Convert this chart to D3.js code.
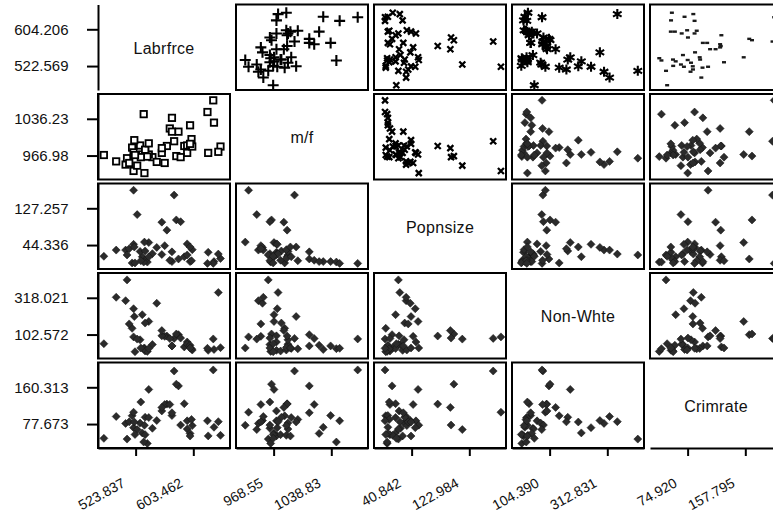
<!DOCTYPE html>
<html>
<head>
<meta charset="utf-8">
<script src="https://cdn.jsdelivr.net/npm/d3@7"></script>
<style>
  html, body { margin: 0; padding: 0; background: #fff; }
  svg { display: block; font-family: "Liberation Sans", Arial, sans-serif; }
</style>
</head>
<body>
<div id="viz"></div>
<script>
// Five crime variables for 47 states, drawn as a scatterplot matrix.
const VARS = ["Labrfrce", "m/f", "Popnsize", "Non-Whte", "Crimrate"];

const labrfrce = [510, 583, 533, 577, 591, 547, 519, 542, 553, 632, 580, 595, 624, 595, 530, 497,
  537, 537, 536, 567, 602, 512, 564, 574, 641, 631, 540, 571, 521, 521, 535, 586, 560, 542, 526,
  531, 638, 599, 515, 560, 601, 523, 522, 574, 480, 599, 623];
const mf = [950, 1012, 969, 994, 985, 964, 982, 969, 955, 1029, 966, 972, 972, 986, 986, 956, 977,
  978, 934, 985, 984, 962, 953, 1038, 984, 1071, 965, 1018, 938, 973, 1045, 964, 972, 990, 948,
  964, 974, 1024, 953, 981, 998, 968, 996, 1012, 968, 989, 1049];
const popnsize = [33, 13, 18, 157, 18, 25, 4, 50, 39, 7, 101, 47, 28, 22, 30, 33, 10, 31, 51, 78,
  34, 22, 43, 7, 14, 3, 6, 10, 168, 46, 6, 97, 23, 18, 113, 9, 24, 7, 36, 96, 9, 4, 40, 29, 19, 40, 3];
const nonWhite = [301, 102, 219, 80, 30, 44, 139, 179, 286, 15, 106, 59, 10, 46, 72, 321, 6, 170,
  24, 94, 12, 423, 92, 36, 26, 77, 4, 79, 89, 254, 20, 82, 95, 21, 76, 24, 349, 40, 165, 126, 19,
  2, 208, 36, 49, 24, 22];
const crimrate = [79.1, 163.5, 57.8, 196.9, 123.4, 68.2, 96.3, 155.5, 85.6, 70.5, 167.4, 84.9,
  51.1, 66.4, 79.8, 94.6, 53.9, 92.9, 75.0, 122.5, 74.2, 43.9, 121.6, 96.8, 52.3, 199.3, 34.2,
  121.6, 104.3, 69.6, 37.3, 75.4, 107.2, 92.3, 65.3, 127.2, 83.1, 56.6, 82.6, 115.1, 88.0, 54.2,
  82.3, 103.0, 45.5, 50.8, 84.9];

const SERIES = [labrfrce, mf, popnsize, nonWhite, crimrate];

// tick labels as printed (low, high)
const xTickLabels = [
  ["523.837", "603.462"], ["968.55", "1038.83"], ["40.842", "122.984"],
  ["104.390", "312.831"], ["74.920", "157.795"]
];
const yTickLabels = [
  ["522.569", "604.206"], ["966.98", "1036.23"], ["44.336", "127.257"],
  ["102.572", "318.021"], ["77.673", "160.313"]
];

const W = 773, H = 515;
const left0 = 98, top0 = 4.5;
const cellW = 132, cellH = 85.5, pitchX = 138, pitchY = 89.5;
// where the two ticks sit inside a panel, as a share of its width / height
const xFrac = [0.285, 0.722];
const yFrac = [0.28, 0.71];

function domainFromTicks(t, f) {
  const k = (t[1] - t[0]) / (f[1] - f[0]);
  const lo = t[0] - f[0] * k;
  return [lo, lo + k];
}

const n = VARS.length;
const xScales = VARS.map((v, j) => {
  const l = left0 + j * pitchX;
  return d3.scaleLinear()
    .domain(domainFromTicks(xTickLabels[j].map(Number), xFrac))
    .range([l, l + cellW]);
});
const yScales = VARS.map((v, i) => {
  const t = top0 + i * pitchY;
  return d3.scaleLinear()
    .domain(domainFromTicks(yTickLabels[i].map(Number), yFrac))
    .range([t + cellH, t]);
});

// marker per panel; everything not listed is a filled diamond
const MARKERS = { "0,1": "plus", "0,2": "cross", "0,3": "star", "0,4": "dash", "1,0": "square", "1,2": "cross" };

const markerPaths = {
  plus: "M-5.5,0H5.5M0,-5.5V5.5",
  cross: "M-3,-3L3,3M-3,3L3,-3",
  star: "M0,-5V5M-4.3,-2.5L4.3,2.5M-4.3,2.5L4.3,-2.5"
};

const svg = d3.select("#viz").append("svg")
  .attr("width", W)
  .attr("height", H);

const clip = svg.append("defs");

for (let i = 0; i < n; i++) {
  for (let j = 0; j < n; j++) {
    const x = xScales[j], y = yScales[i];
    const [x0, x1] = x.range();
    const [y1, y0] = y.range();

    if (i === j) {
      svg.append("text")
        .attr("x", (x0 + x1) / 2)
        .attr("y", (y0 + y1) / 2 + 1)
        .attr("dy", "0.35em")
        .attr("text-anchor", "middle")
        .attr("font-size", 16)
        .attr("letter-spacing", 0.3)
        .attr("fill", "#111")
        .text(VARS[i]);
      continue;
    }

    const id = `c${i}${j}`;
    clip.append("clipPath").attr("id", id)
      .append("rect").attr("x", x0).attr("y", y0).attr("width", cellW).attr("height", cellH);

    const pts = SERIES[j].map((d, k) => [x(d), y(SERIES[i][k])]);
    const kind = MARKERS[`${i},${j}`] || "diamond";
    const g = svg.append("g").attr("clip-path", `url(#${id})`);

    if (kind === "diamond") {
      g.selectAll("path").data(pts).join("path")
        .attr("transform", d => `translate(${d[0]},${d[1]}) rotate(45)`)
        .attr("d", d3.symbol().type(d3.symbolSquare).size(32))
        .attr("fill", "#2b2b2b")
        .attr("stroke", "#111")
        .attr("stroke-width", 0.5);
    } else if (kind === "square") {
      g.selectAll("rect").data(pts).join("rect")
        .attr("x", d => d[0] - 3.2).attr("y", d => d[1] - 3.2)
        .attr("width", 6.4).attr("height", 6.4)
        .attr("fill", "#fff")
        .attr("stroke", "#000")
        .attr("stroke-width", 1.8);
    } else if (kind === "dash") {
      g.selectAll("rect").data(pts).join("rect")
        .attr("x", d => d[0] - 2).attr("y", d => d[1] - 1.2)
        .attr("width", 4).attr("height", 2.4)
        .attr("fill", "#1a1a1a");
    } else {
      g.selectAll("path").data(pts).join("path")
        .attr("transform", d => `translate(${d[0]},${d[1]})`)
        .attr("d", markerPaths[kind])
        .attr("fill", "none")
        .attr("stroke", "#000")
        .attr("stroke-width", kind === "cross" ? 2.3 : 2.1);
    }

    svg.append("rect")
      .attr("x", x0).attr("y", y0)
      .attr("width", cellW).attr("height", cellH)
      .attr("fill", "none")
      .attr("stroke", "#000")
      .attr("stroke-width", 2);
  }
}

// left axes, one per row
yScales.forEach((y, i) => {
  const ax = svg.append("g")
    .attr("transform", `translate(${left0},0)`)
    .call(d3.axisLeft(y)
      .tickValues(yTickLabels[i].map(Number))
      .tickFormat((d, k) => yTickLabels[i][k])
      .tickSize(11)
      .tickSizeOuter(0)
      .tickPadding(18.5));
  ax.select(".domain").attr("stroke-width", 2);
  ax.selectAll(".tick line").attr("stroke-width", 2);
  ax.selectAll("text")
    .attr("font-size", 15)
    .attr("font-family", "Liberation Sans, Arial, sans-serif")
    .attr("fill", "#111");
});

// bottom axes, one per column; labels slanted
const bottom = top0 + (n - 1) * pitchY + cellH;
xScales.forEach((x, j) => {
  const ax = svg.append("g")
    .attr("transform", `translate(0,${bottom})`)
    .call(d3.axisBottom(x)
      .tickValues(xTickLabels[j].map(Number))
      .tickFormat((d, k) => xTickLabels[j][k])
      .tickSize(8)
      .tickSizeOuter(0));
  ax.select(".domain").attr("stroke-width", 2);
  ax.selectAll(".tick line").attr("stroke-width", 2);
  ax.selectAll("text")
    .attr("font-size", 14)
    .attr("font-family", "Liberation Sans, Arial, sans-serif")
    .attr("fill", "#111")
    .attr("text-anchor", "end")
    .attr("x", -10)
    .attr("y", 38)
    .attr("dy", 0)
    .attr("transform", "rotate(-29,-10,38)");
});
</script>
</body>
</html>
